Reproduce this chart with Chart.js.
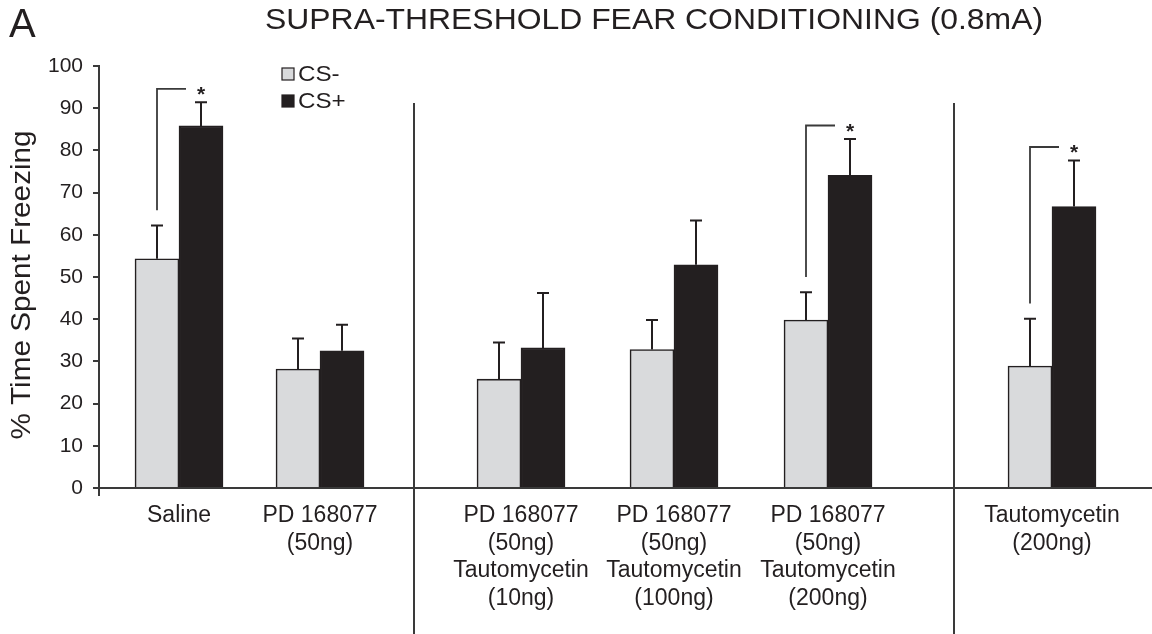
<!DOCTYPE html>
<html>
<head>
<meta charset="utf-8">
<script src="https://cdn.jsdelivr.net/npm/chart.js@4.4.1/dist/chart.umd.min.js"></script>
<style>
  html, body { margin: 0; padding: 0; background: #fff; }
  #wrap { width: 1152px; height: 634px; position: relative; }
</style>
</head>
<body>
<div id="wrap"><canvas id="freezeChart"></canvas></div>
<script>
// groups along the x axis
const groupLabels = [
  ['Saline'],
  ['PD 168077', '(50ng)'],
  ['PD 168077', '(50ng)', 'Tautomycetin', '(10ng)'],
  ['PD 168077', '(50ng)', 'Tautomycetin', '(100ng)'],
  ['PD 168077', '(50ng)', 'Tautomycetin', '(200ng)'],
  ['Tautomycetin', '(200ng)'],
]
// % time spent freezing, mean and SEM
const csMinus = [54.3, 28.2, 25.8, 32.8, 39.8, 28.9]
const csMinusSem = [7.9, 7.2, 8.7, 7.0, 6.6, 11.2]
const csPlus = [85.8, 32.5, 33.2, 52.9, 74.1, 66.7]
const csPlusSem = [5.6, 6.2, 13.0, 10.5, 8.6, 10.9]
// CS- vs CS+ marked with *
const significant = [true, false, false, false, true, true]
const yTickStep = 10

const panelLetter = 'A'
const chartTitle = 'SUPRA-THRESHOLD FEAR CONDITIONING (0.8mA)'
const yTitle = '% Time Spent Freezing'

// layout: group centres and divider lines in x-axis units
const X_MAX = 1053
const groupX = [80, 221, 422, 575, 729, 953]
const dividerX = [315, 855]

const FONT = '"Liberation Sans", Arial, sans-serif'
const INK = '#231f20'
const LINE = '#3a3a3a'
const STRETCH = 1.1 // type in this figure is set a little wide

function wideText(ctx, text, x, y, stretch) {
  ctx.save()
  ctx.translate(x, y)
  ctx.scale(stretch, 1)
  ctx.fillText(text, 0, 0)
  ctx.restore()
}

const decorPlugin = {
  id: 'decor',
  afterDatasetsDraw(chart) {
    const { ctx, scales } = chart
    const y = scales.y
    const x = scales.x
    const base = y.getPixelForValue(0)
    ctx.save()
    ctx.strokeStyle = INK
    ctx.lineWidth = 2

    // error bars (upper half only)
    const sems = [csMinusSem, csPlusSem]
    chart.data.datasets.forEach((ds, d) => {
      const meta = chart.getDatasetMeta(d)
      meta.data.forEach((bar, i) => {
        const top = y.getPixelForValue(ds.data[i].y + sems[d][i])
        ctx.beginPath()
        ctx.moveTo(bar.x, bar.y)
        ctx.lineTo(bar.x, top)
        ctx.moveTo(bar.x - 6, top)
        ctx.lineTo(bar.x + 6, top)
        ctx.stroke()
      })
    })

    // significance brackets
    const m0 = chart.getDatasetMeta(0).data
    const m1 = chart.getDatasetMeta(1).data
    significant.forEach((sig, i) => {
      if (!sig) return
      const x1 = m0[i].x
      const x2 = m1[i].x
      const yLow = y.getPixelForValue(csMinus[i] + csMinusSem[i] + 3.6)
      const yHigh = y.getPixelForValue(csPlus[i] + csPlusSem[i] + 3.2)
      ctx.strokeStyle = LINE
      ctx.lineWidth = 1.8
      ctx.beginPath()
      ctx.moveTo(x1, yLow)
      ctx.lineTo(x1, yHigh)
      ctx.lineTo(x2 - 15, yHigh)
      ctx.stroke()
      ctx.fillStyle = INK
      ctx.font = 'bold 21px ' + FONT
      ctx.textAlign = 'center'
      ctx.textBaseline = 'alphabetic'
      ctx.fillText('*', x2, yHigh + 12)
    })

    // group dividers, running down through the label area
    ctx.strokeStyle = LINE
    ctx.lineWidth = 2
    dividerX.forEach((v) => {
      const px = x.getPixelForValue(v)
      ctx.beginPath()
      ctx.moveTo(px, 103)
      ctx.lineTo(px, chart.height)
      ctx.stroke()
    })

    // y axis continues a little below zero
    ctx.beginPath()
    ctx.moveTo(x.left, base)
    ctx.lineTo(x.left, base + 8)
    ctx.stroke()
    ctx.restore()
  },
  afterDraw(chart) {
    const { ctx, scales } = chart
    ctx.save()
    ctx.fillStyle = INK
    ctx.textBaseline = 'alphabetic'
    ctx.textAlign = 'left'
    ctx.font = '40px ' + FONT
    ctx.fillText(panelLetter, 9, 37)
    ctx.font = '29px ' + FONT
    wideText(ctx, chartTitle, 265, 29, STRETCH)

    // y-axis title, rotated
    ctx.save()
    ctx.translate(30, (scales.y.top + scales.y.bottom) / 2 + 8)
    ctx.rotate(-Math.PI / 2)
    ctx.textAlign = 'center'
    ctx.font = '27px ' + FONT
    ctx.scale(STRETCH, 1)
    ctx.fillText(yTitle, 0, 0)
    ctx.restore()

    // legend
    ctx.font = '22px ' + FONT
    ctx.textBaseline = 'middle'
    chart.data.datasets.forEach((ds, d) => {
      const cy = 74 + d * 27
      ctx.fillStyle = ds.backgroundColor
      ctx.fillRect(282, cy - 6, 12, 12)
      ctx.strokeStyle = INK
      ctx.lineWidth = 1.2
      ctx.strokeRect(282, cy - 6, 12, 12)
      ctx.fillStyle = INK
      wideText(ctx, ds.label, 298, cy + 1, STRETCH)
    })
    ctx.restore()
  },
}

new Chart(document.getElementById('freezeChart'), {
  type: 'bar',
  data: {
    datasets: [
      {
        label: 'CS-',
        data: csMinus.map((v, i) => ({ x: groupX[i], y: v })),
        backgroundColor: '#d9dadc',
        borderColor: INK,
        borderWidth: 1.6,
        barThickness: 44,
      },
      {
        label: 'CS+',
        data: csPlus.map((v, i) => ({ x: groupX[i], y: v })),
        backgroundColor: INK,
        borderColor: INK,
        borderWidth: 1.6,
        barThickness: 44,
      },
    ],
  },
  options: {
    responsive: true,
    maintainAspectRatio: false,
    animation: false,
    layout: { padding: { top: 66, right: 0, left: 0, bottom: 0 } },
    plugins: { legend: { display: false }, tooltip: { enabled: false } },
    scales: {
      x: {
        type: 'linear',
        min: 0,
        max: X_MAX,
        offset: false,
        afterBuildTicks: (scale) => {
          scale.ticks = groupX.map((v) => ({ value: v }))
        },
        afterFit: (scale) => {
          scale.height = 146
        },
        grid: { display: false, drawTicks: false },
        border: { display: true, color: LINE, width: 2 },
        ticks: {
          autoSkip: false,
          maxRotation: 0,
          padding: 14,
          color: INK,
          font: { family: FONT, size: 23, lineHeight: 1.2 },
          callback: (value, index) => groupLabels[index],
        },
      },
      y: {
        min: 0,
        max: 100,
        afterFit: (scale) => {
          scale.width = 99
        },
        grid: {
          display: true,
          drawOnChartArea: false,
          drawTicks: true,
          tickLength: 6,
          color: LINE,
          lineWidth: 2,
        },
        border: { display: true, color: LINE, width: 2 },
        ticks: {
          stepSize: yTickStep,
          padding: 10,
          color: INK,
          font: { family: FONT, size: 21 },
        },
      },
    },
  },
  plugins: [decorPlugin],
})
</script>
</body>
</html>
